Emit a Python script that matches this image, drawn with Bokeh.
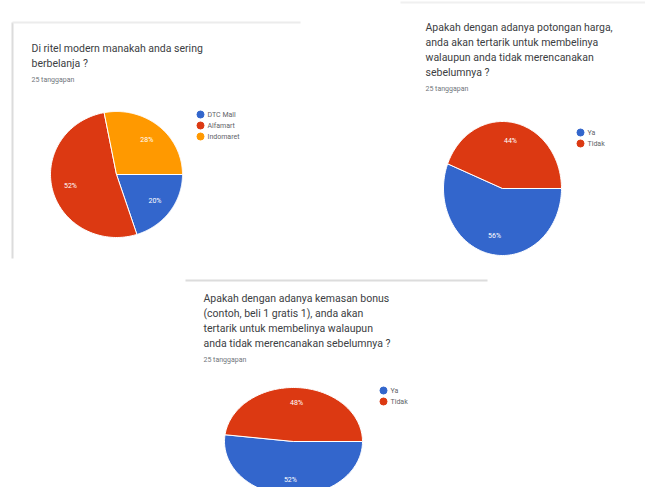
import numpy as np
from bokeh.plotting import figure
from bokeh.models import Range1d
from bokeh.core.properties import value
from bokeh.embed import file_html
from bokeh.resources import INLINE

# ---------------- data ----------------
q1_title = ["Di ritel modern manakah anda sering", "berbelanja ?"]
q1_count = "25 tanggapan"
q1_labels = ["DTC Mall", "Alfamart", "Indomaret"]
q1_values = [5, 13, 7]

q2_title = ["Apakah dengan adanya potongan harga,",
            "anda akan tertarik untuk membelinya",
            "walaupun anda tidak merencanakan",
            "sebelumnya ?"]
q2_count = "25 tanggapan"
q2_labels = ["Ya", "Tidak"]
q2_values = [14, 11]

q3_title = ["Apakah dengan adanya kemasan bonus",
            "(contoh, beli 1 gratis 1), anda akan",
            "tertarik untuk membelinya walaupun",
            "anda tidak merencanakan sebelumnya ?"]
q3_count = "25 tanggapan"
q3_labels = ["Ya", "Tidak"]
q3_values = [13, 12]

COLORS = ["#3366CC", "#DC3912", "#FF9900"]
FONT = value("Roboto")

W, H = 645, 487
p = figure(width=W, height=H, output_backend="svg", toolbar_location=None,
           x_range=Range1d(0, W), y_range=Range1d(H, 0),
           min_border=0)
p.axis.visible = False
p.grid.visible = False
p.outline_line_color = None
p.background_fill_color = "white"

# card borders
p.segment(x0=[12, 12, 185, 400], y0=[22, 22, 280, 2],
          x1=[12, 300, 487, 653], y1=[258, 22, 280, 2],
          line_color=["#dcdcdc", "#ececec", "#dcdcdc", "#f0f0f0"], line_width=2)


def draw_pie(cx, cy, rx, ry, vals, labels, title, count, tx, ty0, lx, ly0):
    vals = np.array(vals, dtype=float)
    frac = vals / vals.sum()
    ends = np.cumsum(frac) * 2 * np.pi
    starts = ends - frac * 2 * np.pi
    xs, ys, cols, px, py, pt = [], [], [], [], [], []
    for i, (a0, a1) in enumerate(zip(starts, ends)):
        t = -np.linspace(a0, a1, 120)  # clockwise from 3 o'clock
        xs.append([cx] + list(cx + rx * np.cos(t)))
        ys.append([cy] + list(cy - ry * np.sin(t)))
        cols.append(COLORS[i])
        m = -(a0 + a1) / 2
        px.append(cx + 0.72 * rx * np.cos(m))
        py.append(cy - 0.72 * ry * np.sin(m))
        pt.append(f"{round(frac[i] * 100)}%")
    p.patches(xs=xs, ys=ys, fill_color=cols, line_color="white", line_width=1)
    p.text(x=px, y=py, text=pt, text_color="white", text_font=FONT,
           text_font_size="7px", text_align="center", text_baseline="middle")
    # title
    ty = [ty0 + 15 * k for k in range(len(title))]
    p.text(x=[tx] * len(title), y=ty, text=title, text_color="#3c4043",
           text_font=FONT, text_font_size="10.5px", text_baseline="middle")
    p.text(x=[tx], y=[ty[-1] + 16], text=[count], text_color="#70757a",
           text_font=FONT, text_font_size="7px", text_baseline="middle")
    # legend
    ly = [ly0 + 11 * k for k in range(len(labels))]
    p.scatter(x=[lx] * len(labels), y=ly, size=7, color=COLORS[:len(labels)])
    p.text(x=[lx + 7] * len(labels), y=ly, text=labels, text_color="#5f6368",
           text_font=FONT, text_font_size="7px", text_baseline="middle")


draw_pie(116, 174, 66, 63, q1_values, q1_labels, q1_title, q1_count, 31, 48, 200, 114)
draw_pie(502, 188, 59, 67, q2_values, q2_labels, q2_title, q2_count, 425, 27, 580, 132)
draw_pie(293, 441, 69, 54, q3_values, q3_labels, q3_title, q3_count, 203, 298, 383, 390)

open("out.html", "w").write(file_html(p, INLINE))
